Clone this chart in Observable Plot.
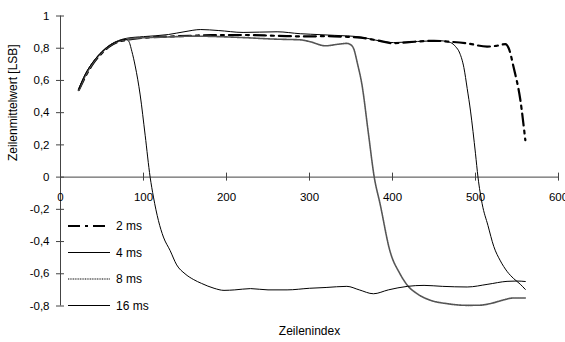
<!DOCTYPE html>
<html><head><meta charset="utf-8">
<script src="https://cdn.jsdelivr.net/npm/d3@7"></script>
<script src="https://cdn.jsdelivr.net/npm/@observablehq/plot@0.6"></script>
<style>body{margin:0;background:#fff;} svg{display:block}</style>
</head><body><div id="chart"></div>
<script>
const series = ["2 ms", "4 ms", "8 ms", "16 ms"];
const xTicks = [0, 100, 200, 300, 400, 500, 600];
const yTicks = [-0.8, -0.6, -0.4, -0.2, 0, 0.2, 0.4, 0.6, 0.8, 1];
const xTitle = "Zeilenindex";
const yTitle = "Zeilenmittelwert [LSB]";

const x2 = [22,30,40,50,60,70,80,100,130,160,181,220,261,297,320,340,361,380,401,420,450,470,490,514,525,536,540,546,554,560];
const y2 = [0.54,0.625,0.71,0.77,0.815,0.84,0.852,0.865,0.872,0.878,0.881,0.882,0.877,0.873,0.875,0.872,0.866,0.85,0.831,0.838,0.846,0.84,0.83,0.81,0.815,0.825,0.80,0.68,0.48,0.23];

const x4 = [22,30,40,50,60,70,80,100,130,150,169,190,220,240,261,289,301,330,361,380,401,430,458,470,476,481,486,490,494,500,503,508,515,522,530,538,546,554,560];
const y4 = [0.55,0.64,0.72,0.78,0.822,0.848,0.862,0.872,0.885,0.903,0.916,0.91,0.898,0.9,0.902,0.89,0.887,0.88,0.87,0.85,0.835,0.842,0.846,0.835,0.81,0.77,0.68,0.55,0.41,0.145,0.0,-0.165,-0.3,-0.43,-0.52,-0.585,-0.63,-0.665,-0.697];

const x8 = [22,30,40,50,60,70,80,100,130,160,190,220,261,289,301,319,335,345,350,353,358,363,371,378,385,397,409,418,430,446,465,490,505,518,532,546,560];
const y8 = [0.54,0.63,0.715,0.775,0.818,0.843,0.855,0.865,0.87,0.875,0.872,0.866,0.856,0.852,0.84,0.815,0.825,0.83,0.82,0.8,0.7,0.58,0.27,0.0,-0.165,-0.46,-0.6,-0.672,-0.725,-0.765,-0.785,-0.796,-0.795,-0.785,-0.765,-0.75,-0.75];

const x16 = [22,30,40,50,60,70,78,82,86,90,96,102,108,112,118,124,132,140,150,160,170,185,197,210,229,250,273,300,320,345,360,377,395,418,438,460,490,515,538,550,560];
const y16 = [0.545,0.64,0.72,0.778,0.82,0.845,0.855,0.845,0.78,0.69,0.51,0.26,0.0,-0.124,-0.27,-0.372,-0.455,-0.545,-0.6,-0.635,-0.66,-0.69,-0.703,-0.70,-0.692,-0.70,-0.70,-0.69,-0.685,-0.678,-0.70,-0.724,-0.70,-0.678,-0.672,-0.678,-0.682,-0.665,-0.647,-0.645,-0.648];

const rows = (name, xs, ys) => xs.map((x, i) => ({series: name, x, y: ys[i]}));
const data = [
  ...rows("2 ms", x2, y2),
  ...rows("4 ms", x4, y4),
  ...rows("8 ms", x8, y8),
  ...rows("16 ms", x16, y16)
];

const styles = {
  "2 ms": {stroke: "#000", strokeWidth: 2.2, strokeDasharray: "12,5,3,5"},
  "4 ms": {stroke: "#000", strokeWidth: 1},
  "8 ms": {stroke: "#555", strokeWidth: 1.6, strokeDasharray: "1,0.7"},
  "16 ms": {stroke: "#000", strokeWidth: 1}
};
const fmt = d => String(d).replace(".", ",");
const axisColor = "#444";
const font = "'Liberation Sans', Arial, sans-serif";

const plot = Plot.plot({
  width: 565, height: 342,
  marginLeft: 60, marginRight: 7, marginTop: 15.5, marginBottom: 36.5,
  style: {fontFamily: font, fontSize: "11.5px", background: "#fff", color: "#000"},
  x: {domain: [0, 600], axis: null},
  y: {domain: [-0.8, 1], axis: null},
  marks: [
    Plot.ruleX([0], {stroke: axisColor}),
    Plot.ruleY([0], {stroke: axisColor}),
    Plot.ruleX(xTicks, {x: d => d, y1: 0, y2: 0, insetTop: -4, insetBottom: -4, stroke: axisColor}),
    Plot.ruleY(yTicks, {y: d => d, x1: 0, x2: 0, insetLeft: -4, insetRight: -4, stroke: axisColor}),
    Plot.text(xTicks, {x: d => d, y: 0, dy: 20, text: d => String(d)}),
    Plot.text(yTicks, {x: 0, y: d => d, dx: -11, textAnchor: "end", text: fmt}),
    ...series.map(s => Plot.line(data.filter(d => d.series === s), {x: "x", y: "y", curve: "monotone-x", ...styles[s]})),
    Plot.text([yTitle], {frameAnchor: "left", dx: -47, rotate: -90, fontSize: 12, text: d => d}),
    Plot.text([xTitle], {frameAnchor: "bottom", dy: 29, fontSize: 12, text: d => d})
  ]
});

// legend
const svg = d3.select(plot);
const lg = svg.append("g").attr("font-family", font).attr("font-size", 12).attr("text-anchor", "start");
series.forEach((s, i) => {
  const y = 226 + i * 26.5;
  const st = styles[s];
  lg.append("line")
    .attr("x1", 68).attr("x2", 110).attr("y1", y).attr("y2", y)
    .attr("stroke", st.stroke).attr("stroke-width", st.strokeWidth)
    .attr("stroke-dasharray", st.strokeDasharray || null);
  lg.append("text").attr("x", 116).attr("y", y).attr("dy", "0.35em")
    .attr("text-anchor", "start").attr("fill", "#000").text(s);
});

document.getElementById("chart").appendChild(plot);
</script>
</body></html>
